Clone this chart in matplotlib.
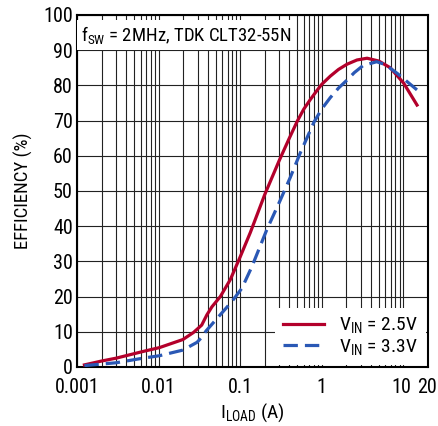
import matplotlib
matplotlib.use("Agg")
import matplotlib.pyplot as plt
from matplotlib import ticker
from matplotlib.transforms import ScaledTranslation

plt.rcParams['font.family'] = ['Roboto Condensed', 'Liberation Sans', 'DejaVu Sans']
plt.rcParams['mathtext.fontset'] = 'custom'
plt.rcParams['mathtext.rm'] = 'Roboto Condensed'
plt.rcParams['mathtext.it'] = 'Roboto Condensed'

# efficiency curves
load_25 = [0.00123, 0.002, 0.003, 0.0064, 0.0102, 0.0198, 0.0267, 0.0337, 0.039, 0.045,
           0.057, 0.0755, 0.1, 0.133, 0.2, 0.3, 0.4, 0.5, 0.6, 0.72, 0.87, 1.0,
           1.27, 1.6, 2.04, 2.7, 3.59, 5.0, 6.9, 10.1, 14.7]
eff_25 = [0.6, 1.7, 2.5, 4.4, 5.5, 7.8, 9.8, 11.9, 14.8, 17.1,
          20.0, 24.8, 31.3, 38.2, 49.0, 58.6, 65.0, 69.8, 73.2, 75.9, 78.5, 80.3,
          82.6, 84.5, 86.0, 87.2, 87.7, 86.9, 85.0, 80.6, 74.4]

load_33 = [0.00123, 0.003, 0.0064, 0.0102, 0.0198, 0.0295, 0.034, 0.038, 0.052, 0.079,
           0.105, 0.139, 0.21, 0.31, 0.41, 0.54, 0.8, 1.0, 1.27, 1.6, 2.04,
           2.5, 3.2, 4.7, 6.0, 8.4, 14.7]
eff_33 = [0.4, 1.2, 2.5, 3.2, 4.8, 7.0, 8.5, 10.2, 13.8, 18.6,
          22.4, 28.5, 38.8, 47.4, 53.8, 60.6, 69.5, 73.3, 76.5, 79.2, 81.5,
          83.6, 85.6, 86.7, 85.9, 83.4, 78.7]

xticks = [0.001, 0.01, 0.1, 1, 10, 20]
xticklabels = ['0.001', '0.01', '0.1', '1', '10', '20']
yticks = list(range(0, 101, 10))

fig = plt.figure(figsize=(4.38, 4.26), dpi=100)
ax = fig.add_axes([0.176, 0.1385, 0.801, 0.8265])

ax.plot(load_25, eff_25, color='#b3002b', lw=2.3, label=r'V$_{\mathrm{IN}}$ = 2.5V',
        zorder=3, solid_joinstyle='round')
ax.plot(load_33, eff_33, color='#2a58b5', lw=2.3, dashes=(4.5, 2.2),
        label=r'V$_{\mathrm{IN}}$ = 3.3V', zorder=3)

ax.set_xscale('log')
ax.set_xlim(0.001, 20)
ax.set_ylim(0, 100)
ax.set_xticks(xticks)
ax.set_xticklabels(xticklabels)
ax.set_yticks(yticks)
ax.xaxis.set_minor_locator(ticker.LogLocator(base=10, subs=range(2, 10), numticks=20))
ax.xaxis.set_minor_formatter(ticker.NullFormatter())
ax.grid(True, which='both', axis='x', color='#222222', lw=0.8)
ax.grid(True, which='major', axis='y', color='#222222', lw=0.8)
ax.tick_params(which='both', length=0, labelsize=14.5)
ax.tick_params(axis='x', pad=8)
ax.tick_params(axis='y', pad=3)
for s in ax.spines.values():
    s.set_linewidth(1.5)

# "10" and "20" sit close together; spread them a little
lbls = ax.get_xticklabels()
lbls[-2].set_transform(lbls[-2].get_transform() + ScaledTranslation(-2 / 100, 0, fig.dpi_scale_trans))
lbls[-1].set_transform(lbls[-1].get_transform() + ScaledTranslation(-1 / 100, 0, fig.dpi_scale_trans))

ax.set_xlabel(r'I$_{\mathrm{LOAD}}$ (A)', fontsize=14, labelpad=3)
ax.set_ylabel('EFFICIENCY (%)', fontsize=13.5, labelpad=7)

ax.text(0.012, 0.975, r'f$_{\mathrm{SW}}$ = 2MHz, TDK CLT32-55N', transform=ax.transAxes,
        fontsize=13.5, va='top', ha='left', zorder=4,
        bbox=dict(facecolor='white', edgecolor='none', pad=3))

leg = ax.legend(loc='lower right', fontsize=14, frameon=True, fancybox=False,
                borderaxespad=0.1, handlelength=2.1, labelspacing=0.1)
leg.get_frame().set_edgecolor('none')
leg.get_frame().set_alpha(1)

fig.savefig('out.png', dpi=100)
